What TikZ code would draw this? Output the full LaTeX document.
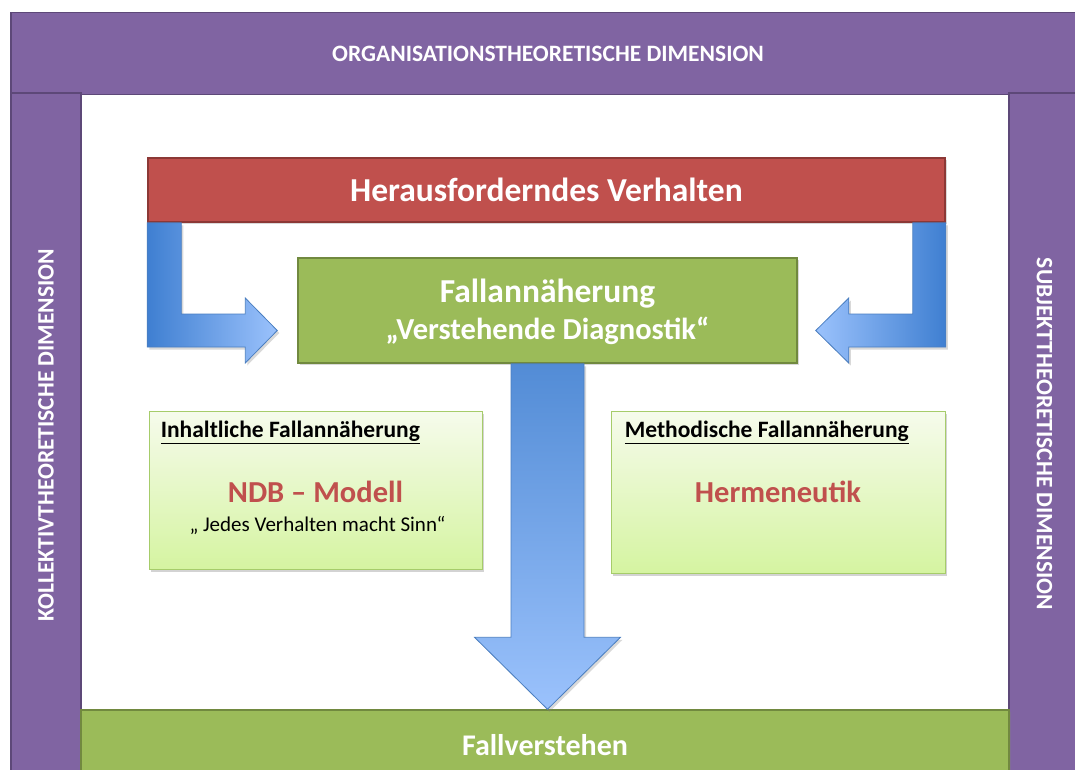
\documentclass[tikz,border=0pt]{standalone}
\usepackage{fontspec}
\setmainfont{Carlito}
\usepackage{tikz}
\usetikzlibrary{calc,shadows}

\definecolor{dimPurple}{HTML}{8064A2}
\definecolor{dimBorder}{HTML}{5D4878}
\definecolor{herRed}{HTML}{C0504D}
\definecolor{herBorder}{HTML}{8C3836}
\definecolor{fallGreen}{HTML}{9BBB59}
\definecolor{fallBorder}{HTML}{71893F}
\definecolor{boxTop}{HTML}{F6FBEC}
\definecolor{boxBottom}{HTML}{D5F4A1}
\definecolor{boxBorder}{HTML}{A6CC6A}
\definecolor{arrDark}{HTML}{3F7FD1}
\definecolor{arrLight}{HTML}{9BC2FC}
\definecolor{arrBorder}{HTML}{4A7EC0}
\newcommand{\fsz}[1]{\fontsize{#1}{#1}\selectfont}

\begin{document}
\begin{tikzpicture}[x=1pt, y=-1pt,
         inner sep=0pt, semithick]
  \tikzstyle{dim}=[draw=dimBorder, fill=dimPurple, line width=1.6pt, text=white, font=\bfseries\fsz{23.5}]
  \tikzstyle{herbox}=[draw=herBorder, fill=herRed, line width=1.5pt, text=white, font=\bfseries\fsz{33.5},
                      drop shadow={shadow xshift=1.5pt, shadow yshift=-1.5pt, opacity=0.3}]
  \tikzstyle{fallbox}=[draw=fallBorder, fill=fallGreen, line width=1.5pt, text=white, font=\bfseries,
                       drop shadow={shadow xshift=1.5pt, shadow yshift=-1.5pt, opacity=0.3}]
  \tikzstyle{infobox}=[draw=boxBorder, top color=boxTop, bottom color=boxBottom, line width=0.9pt,
                       drop shadow={shadow xshift=2pt, shadow yshift=-2.5pt, opacity=0.35}]
  \tikzstyle{boxtitle}=[anchor=west, font=\bfseries\fsz{23.5}]
  \tikzstyle{keyword}=[text=herRed, font=\bfseries\fsz{30.5}]
  \tikzstyle{blockarrow}=[draw=arrBorder, line width=0.8pt, line join=miter,
                          drop shadow={shadow xshift=2pt, shadow yshift=-2.5pt, opacity=0.3}]
\clip (0,0) rectangle (1075,769);

% frame of the three dimensions
\node[dim, minimum width=1074pt, minimum height=82pt] (dimO) at (548,53.5) {ORGANISATIONSTHEORETISCHE DIMENSION};
\node[dim, minimum width=70pt, minimum height=684pt] (dimK) at (46,435) {\rotatebox{90}{KOLLEKTIVTHEORETISCHE DIMENSION}};
\node[dim, minimum width=71pt, minimum height=682pt] (dimS) at (1044.5,434) {\rotatebox{-90}{SUBJEKTTHEORETISCHE DIMENSION}};
\node[fallbox, drop shadow={opacity=0}, minimum width=928pt, minimum height=70pt, font=\bfseries\fsz{30}] (fallV) at (545,745) {Fallverstehen};

% main boxes
\node[herbox, minimum width=797pt, minimum height=64pt] (herV) at (546.5,190) {Herausforderndes Verhalten};
\node[fallbox, minimum width=499pt, minimum height=105pt] (fallA) at (547.5,310.5) {};
\node[text=white, font=\bfseries\fsz{33.5}] (fallT) at ($(fallA.center)+(0,-17)$) {Fallannäherung};
\node[text=white, font=\bfseries\fsz{30.5}] (fallS) at ($(fallT)+(0,37)$) {„Verstehende Diagnostik“};

\node[infobox, minimum width=333pt, minimum height=158pt] (inhF) at (315.5,490) {};
\node[boxtitle] (inhT) at ($(inhF.north west)+(12,22)$) {\underline{Inhaltliche Fallannäherung}};
\node[keyword] (ndb) at ($(inhF.center)+(0,2)$) {NDB – Modell};
\node[font=\fsz{21}] (ndbS) at ($(ndb)+(2,33)$) {„ Jedes Verhalten macht Sinn“};

\node[infobox, minimum width=334pt, minimum height=162pt] (metF) at (778,492) {};
\node[boxtitle] (metT) at ($(metF.north west)+(14,22)$) {\underline{Methodische Fallannäherung}};
\node[keyword] (herm) at ($(metF.center)+(0,0)$) {Hermeneutik};

% arrows
\coordinate (lTip) at ($(fallA.west)+(-20,20)$);
\coordinate (rTip) at ($(fallA.east)+(18,20)$);
\coordinate (dTip) at (fallA.south |- fallV.north);

\draw[blockarrow, left color=arrDark, right color=arrLight]
  (herV.south west) -- ++(34,0) |- ($(lTip)+(-32,-16.5)$) -- ++(0,-16) -- (lTip)
  -- ++(-32,32.5) -- ++(0,-16) -| (herV.south west) -- cycle;
\draw[blockarrow, left color=arrLight, right color=arrDark]
  (herV.south east) -- ++(-33,0) |- ($(rTip)+(33,-16.5)$) -- ++(0,-16) -- (rTip)
  -- ++(33,32.5) -- ++(0,-16) -| (herV.south east) -- cycle;
\draw[blockarrow, top color=arrDark!90!white, bottom color=arrLight]
  ($(fallA.south)+(-36.5,0)$) -- ($(fallA.south)+(36.5,0)$) -- ($(dTip)+(36.5,-72)$)
  -- ($(dTip)+(73,-72)$) -- (dTip) -- ($(dTip)+(-73,-72)$) -- ($(dTip)+(-36.5,-72)$) -- cycle;
\end{tikzpicture}
\end{document}
